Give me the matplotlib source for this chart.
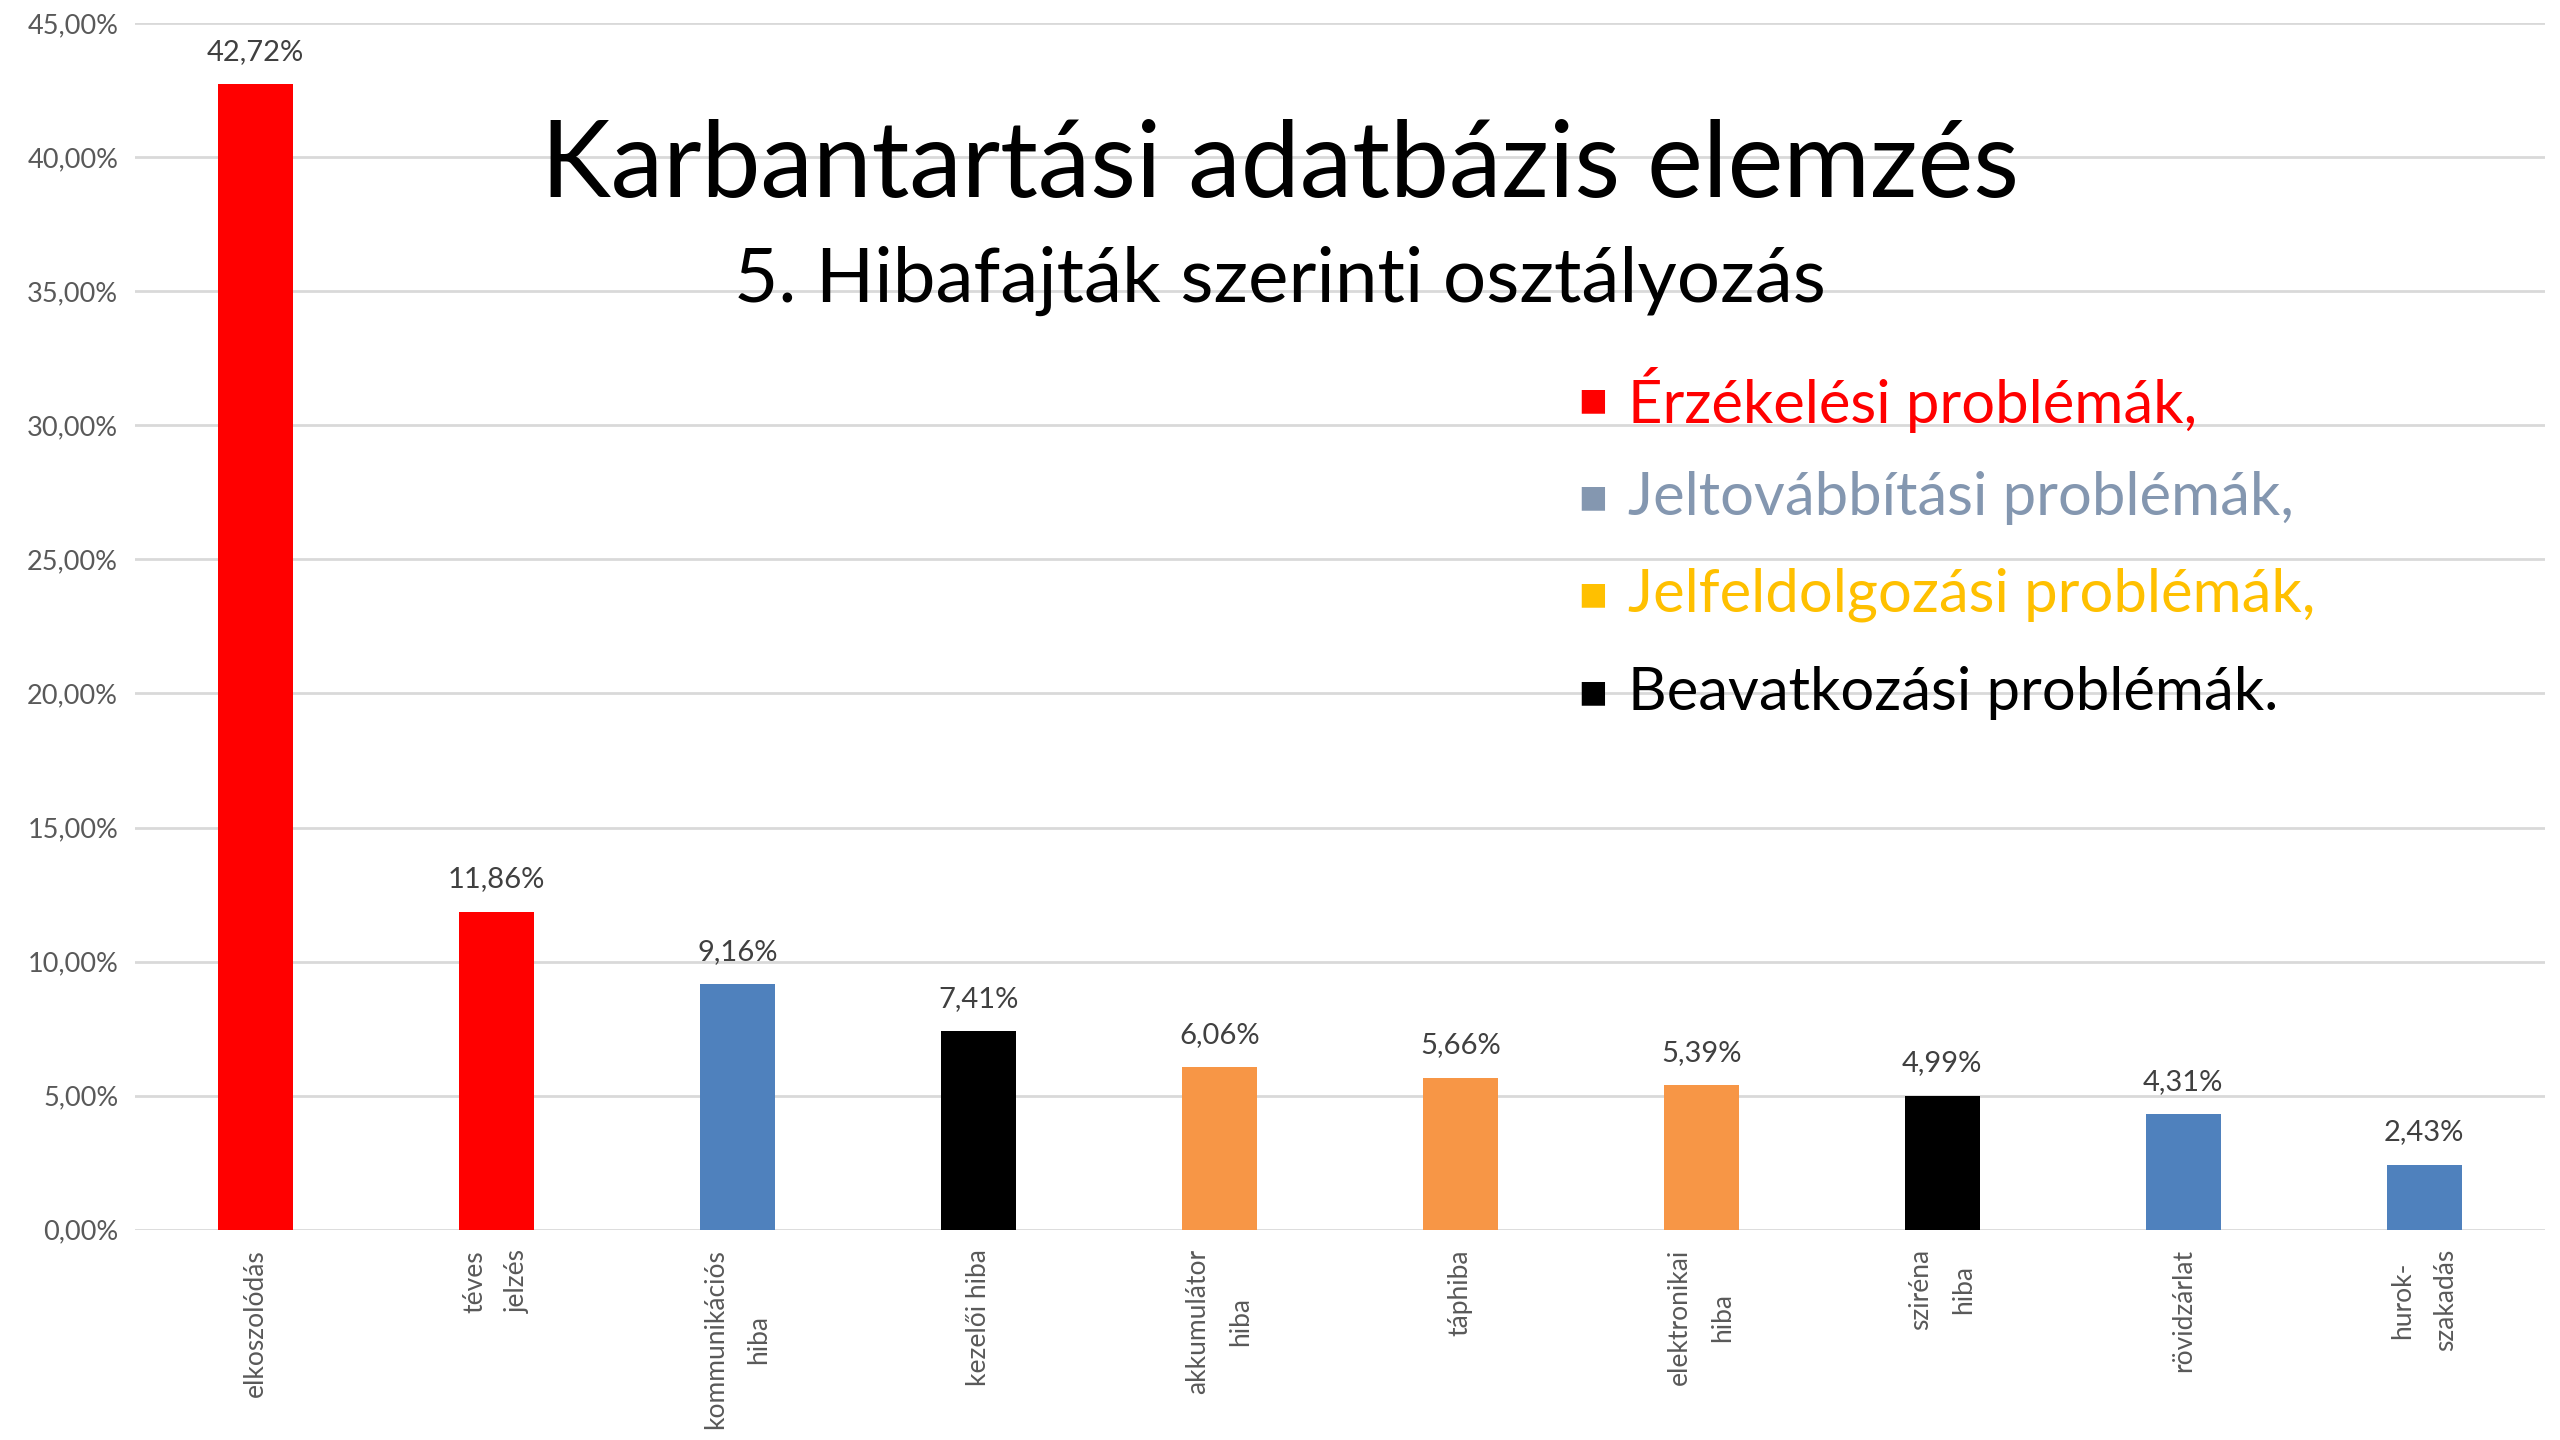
import matplotlib
matplotlib.use("Agg")
import matplotlib.pyplot as plt
from matplotlib.ticker import FuncFormatter

categories = ["elkoszolódás", "téves\njelzés", "kommunikációs\nhiba", "kezelői hiba",
              "akkumulátor\nhiba", "táphiba", "elektronikai\nhiba", "sziréna\nhiba",
              "rövidzárlat", "hurok-\nszakadás"]
values = [42.72, 11.86, 9.16, 7.41, 6.06, 5.66, 5.39, 4.99, 4.31, 2.43]
bar_colors = ["#FF0000", "#FF0000", "#4F81BD", "#000000", "#F79646",
              "#F79646", "#F79646", "#000000", "#4F81BD", "#4F81BD"]
legend_labels = ["Érzékelési problémák,", "Jeltovábbítási problémák,",
                 "Jelfeldolgozási problémák,", "Beavatkozási problémák."]
legend_colors = ["#FF0000", "#8497B0", "#FFC000", "#000000"]
yticks = [0, 5, 10, 15, 20, 25, 30, 35, 40, 45]

plt.rcParams['font.family'] = ['Lato', 'DejaVu Sans']

fig = plt.figure(figsize=(25.6, 14.4), dpi=100)
ax = fig.add_axes([0.0527, 0.146, 0.9413, 0.838])

x = range(len(values))
ax.bar(x, values, width=0.31, color=bar_colors, zorder=3)
for i, v in enumerate(values):
    ax.annotate("{:.2f}%".format(v).replace(".", ","), (i, v), xytext=(0, 14),
                textcoords="offset points", ha="center", va="bottom",
                fontsize=21, color="#404040")

ax.set_xlim(-0.5, len(values) - 0.5)
ax.set_ylim(0, 45)
ax.set_yticks(yticks)
ax.yaxis.set_major_formatter(FuncFormatter(lambda v, p: "{:.2f}%".format(v).replace(".", ",")))
ax.grid(axis="y", color="#D9D9D9", linewidth=2, zorder=0)
for s in ax.spines.values():
    s.set_visible(False)
ax.tick_params(axis="y", length=0, labelsize=19.5, labelcolor="#595959", pad=12)
ax.set_xticks(list(x))
ax.set_xticklabels(categories, rotation=90, fontsize=19, color="#595959", linespacing=1.9)
ax.tick_params(axis="x", length=0, pad=14)

fig.text(0.5, 0.884, "Karbantartási adatbázis elemzés", ha="center", va="center",
         fontsize=76, color="#000000")
fig.text(0.5, 0.805, "5. Hibafajták szerinti osztályozás", ha="center", va="center",
         fontsize=55, color="#000000")

leg_y = [0.722, 0.654, 0.587, 0.519]
for lab, col, yy in zip(legend_labels, legend_colors, leg_y):
    fig.text(0.622, yy, "■", ha="center", va="center", fontsize=22, color=col,
             family=["DejaVu Sans"])
    fig.text(0.636, yy, lab, ha="left", va="center", fontsize=43, color=col)

fig.savefig("out.png", dpi=100)
